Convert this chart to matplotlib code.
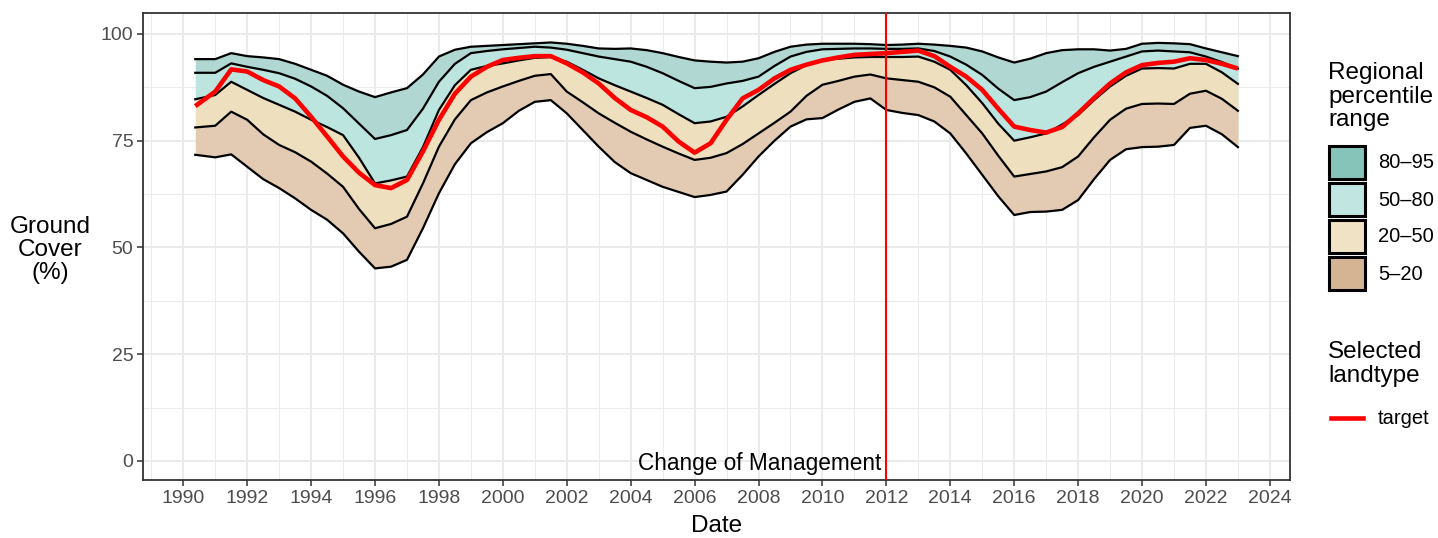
import matplotlib
matplotlib.use("Agg")
import matplotlib.pyplot as plt
from matplotlib.patches import Rectangle
from matplotlib.lines import Line2D
import numpy as np

plt.rcParams["font.family"] = ["Liberation Sans", "DejaVu Sans"]

# ---------------------------- data ----------------------------
years = [1990.375, 1991, 1991.5, 1992, 1992.5, 1993, 1993.5, 1994, 1994.5, 1995, 1995.5,
         1996, 1996.5, 1997, 1997.5, 1998, 1998.5, 1999, 1999.5, 2000, 2000.5,
         2001, 2001.5, 2002, 2002.5, 2003, 2003.5, 2004, 2004.5, 2005, 2005.5,
         2006, 2006.5, 2007, 2007.5, 2008, 2008.5, 2009, 2009.5, 2010, 2010.5,
         2011, 2011.5, 2012, 2012.5, 2013, 2013.5, 2014, 2014.5, 2015, 2015.5,
         2016, 2016.5, 2017, 2017.5, 2018, 2018.5, 2019, 2019.5, 2020, 2020.5,
         2021, 2021.5, 2022, 2022.5, 2023]

p95 = [94.1, 94.1, 95.5, 94.8, 94.5, 94.1, 93.0, 91.6, 90.2, 88.1, 86.5,
       85.2, 86.3, 87.3, 90.5, 94.7, 96.3, 97.0, 97.2, 97.4, 97.6,
       97.8, 98.0, 97.7, 97.2, 96.6, 96.5, 96.6, 96.2, 95.5, 94.6,
       93.8, 93.5, 93.3, 93.5, 94.3, 95.8, 97.0, 97.5, 97.7, 97.7,
       97.7, 97.6, 97.4, 97.5, 97.7, 97.5, 97.2, 96.8, 95.9, 94.5,
       93.3, 94.2, 95.5, 96.2, 96.4, 96.4, 96.1, 96.5, 97.7, 97.9,
       97.8, 97.6, 96.6, 95.7, 94.8]

p80 = [90.9, 90.9, 93.1, 92.3, 91.6, 90.8, 89.5, 87.7, 85.5, 82.6, 79.0,
       75.4, 76.3, 77.5, 82.5, 88.8, 93.0, 95.5, 96.0, 96.4, 96.7,
       97.0, 96.8, 96.3, 95.5, 94.7, 94.1, 93.5, 92.3, 90.8, 89.0,
       87.3, 87.6, 88.4, 89.0, 90.0, 92.5, 94.7, 95.8, 96.4, 96.5,
       96.6, 96.6, 96.5, 96.5, 96.6, 96.0, 94.7, 92.8, 90.4, 87.2,
       84.5, 85.2, 86.5, 88.7, 90.8, 92.3, 93.5, 94.7, 95.9, 96.1,
       95.9, 95.7, 94.7, 93.4, 91.9]

p50 = [84.7, 85.7, 88.8, 86.9, 85.0, 83.4, 81.8, 79.9, 78.2, 76.3, 71.0,
       65.0, 65.7, 66.6, 73.5, 82.2, 88.0, 91.6, 92.5, 93.1, 93.8,
       94.4, 94.6, 93.5, 91.6, 89.6, 88.0, 86.5, 85.0, 83.4, 81.2,
       79.1, 79.5, 80.6, 83.0, 85.7, 88.3, 90.8, 92.7, 93.9, 94.2,
       94.5, 94.6, 94.6, 94.6, 94.7, 93.5, 91.6, 88.0, 83.8, 79.0,
       75.0, 75.8, 76.7, 78.8, 81.0, 84.5, 87.7, 90.2, 91.9, 92.0,
       91.9, 93.0, 93.0, 91.0, 88.3]

p20 = [78.1, 78.5, 81.8, 79.9, 76.5, 74.0, 72.3, 70.1, 67.3, 64.2, 59.0,
       54.5, 55.5, 57.2, 65.0, 73.6, 80.0, 84.5, 86.3, 87.7, 89.0,
       90.2, 90.6, 86.5, 84.0, 81.4, 79.2, 77.1, 75.3, 73.6, 72.0,
       70.5, 71.0, 72.1, 74.2, 76.7, 79.2, 81.8, 85.5, 88.1, 89.0,
       90.0, 90.5, 89.6, 89.2, 88.8, 87.5, 85.3, 81.0, 76.7, 71.5,
       66.6, 67.2, 67.8, 68.8, 71.3, 75.8, 79.9, 82.5, 83.6, 83.7,
       83.6, 86.0, 86.7, 84.8, 82.0]

p5 = [71.7, 71.1, 71.8, 68.9, 66.0, 63.9, 61.5, 58.8, 56.5, 53.3, 49.0,
      45.1, 45.5, 47.1, 54.5, 62.7, 69.5, 74.4, 77.0, 79.1, 82.0,
      84.1, 84.5, 81.4, 77.5, 73.6, 70.0, 67.4, 65.8, 64.2, 63.0,
      61.8, 62.3, 63.1, 67.0, 71.3, 75.0, 78.3, 80.0, 80.3, 82.3,
      84.1, 84.9, 82.2, 81.5, 81.0, 79.5, 76.7, 72.0, 67.0, 62.0,
      57.6, 58.3, 58.4, 58.8, 61.1, 66.0, 70.5, 73.0, 73.5, 73.6,
      74.0, 78.0, 78.5, 76.5, 73.5]

target = [83.1, 86.5, 91.7, 91.2, 89.2, 87.7, 84.9, 80.6, 76.0, 71.3, 67.5,
          64.6, 63.9, 65.8, 72.5, 79.9, 86.0, 90.0, 92.3, 93.9, 94.4,
          94.8, 94.8, 93.1, 91.0, 88.4, 85.0, 82.2, 80.5, 78.3, 74.8,
          72.2, 74.4, 79.9, 84.9, 86.9, 89.6, 91.6, 92.8, 93.8, 94.5,
          95.1, 95.3, 95.5, 95.8, 96.1, 94.8, 92.3, 90.0, 86.9, 82.5,
          78.3, 77.5, 76.9, 78.2, 81.4, 85.0, 88.4, 91.0, 92.7, 93.2,
          93.5, 94.3, 93.9, 93.0, 91.9]

band_labels = ["80\u201295", "50\u201280", "20\u201250", "5\u201220"]
band_fill = ["#B0D7D2", "#BDE5DF", "#EEDFBE", "#E3CBB3"]
band_key = ["#86C4B9", "#C1E5E0", "#F0E2C4", "#D4B492"]
change_year = 2012
change_label = "Change of Management"

# ---------------------------- plot ----------------------------
W, H = 1438, 538
fig = plt.figure(figsize=(W / 100, H / 100), dpi=100)
ax = fig.add_axes([143 / W, (H - 480) / H, (1290 - 143) / W, (480 - 13) / H])

x = np.array(years)
bounds = [np.array(p95), np.array(p80), np.array(p50), np.array(p20), np.array(p5)]
for i in range(4):
    ax.fill_between(x, bounds[i + 1], bounds[i], color=band_fill[i], lw=0, zorder=2)
for b in bounds:
    ax.plot(x, b, color="black", lw=1.6, zorder=3, solid_joinstyle="round")
ax.plot(x, target, color="#FF0000", lw=3.3, zorder=4, solid_capstyle="butt",
        solid_joinstyle="round")

ax.axvline(change_year, color="#FF0000", lw=1.5, zorder=5)
ax.annotate(change_label, (change_year, 0), xytext=(-5, -9), textcoords="offset pixels",
            ha="right", va="baseline", fontsize=16.3, color="black", zorder=6)

ax.set_xlim(1988.74, 2024.63)
ax.set_ylim(-4.45, 104.9)
ax.set_xticks(np.arange(1990, 2025, 2))
ax.set_xticks(np.arange(1989, 2025, 2), minor=True)
ax.set_yticks([0, 25, 50, 75, 100])
ax.set_yticks([12.5, 37.5, 62.5, 87.5], minor=True)
ax.grid(True, which="major", color="#EBEBEB", lw=1.4, zorder=0)
ax.grid(True, which="minor", color="#EBEBEB", lw=0.7, zorder=0)
ax.set_axisbelow(True)
ax.tick_params(which="major", length=4, width=1.1, color="#333333",
               labelcolor="#4D4D4D", labelsize=14, pad=3)
ax.tick_params(which="minor", length=0)
for s in ax.spines.values():
    s.set_color("#333333")
    s.set_linewidth(1.3)

ax.set_xlabel("Date", fontsize=17.5, labelpad=6)
fig.text(50 / W, 1 - 250 / H, "Ground\nCover\n(%)", ha="center", va="center",
         multialignment="center", fontsize=17.5, linespacing=1.05)

# ---------------------------- legend ----------------------------
def fx(px):
    return px / W

def fy(py):
    return 1 - py / H

fig.text(fx(1328), fy(62), "Regional\npercentile\nrange", ha="left", va="top",
         fontsize=17.5, linespacing=1.1)
key_top = 146
for i, lab in enumerate(band_labels):
    y0 = key_top + i * 37
    fig.add_artist(Rectangle((fx(1329), fy(y0 + 33)), 36 / W, 33 / H,
                             transform=fig.transFigure, facecolor=band_key[i],
                             edgecolor="black", lw=2.2))
    fig.text(fx(1378), fy(y0 + 17), lab, ha="left", va="center", fontsize=14.5)

fig.text(fx(1328), fy(341), "Selected\nlandtype", ha="left", va="top",
         fontsize=17.5, linespacing=1.1)
fig.add_artist(Line2D([fx(1331), fx(1363)], [fy(418), fy(418)],
                      transform=fig.transFigure, color="#FF0000", lw=3.3))
fig.text(fx(1378), fy(418), "target", ha="left", va="center", fontsize=14.5)

fig.savefig("out.png", dpi=100)
